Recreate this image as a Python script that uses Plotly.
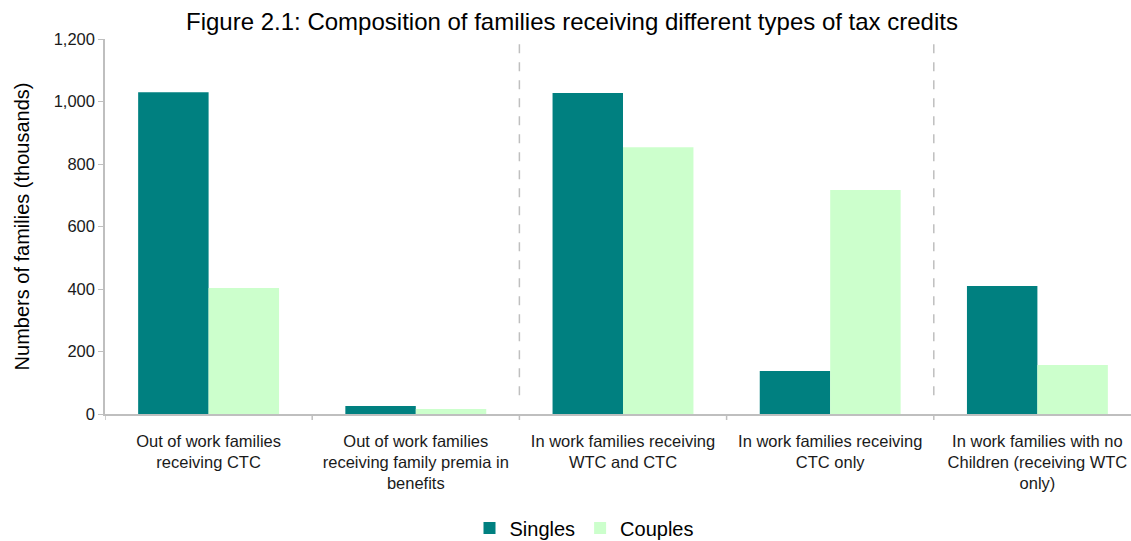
import plotly.graph_objects as go

categories = [
    "Out of work families<br>receiving CTC",
    "Out of work families<br>receiving family premia in<br>benefits",
    "In work families receiving<br>WTC and CTC",
    "In work families receiving<br>CTC only",
    "In work families with no<br>Children (receiving WTC<br>only)",
]
singles = [1030, 26, 1027, 138, 410]
couples = [403, 16, 854, 717, 157]
y_ticks = [0, 200, 400, 600, 800, 1000, 1200]
y_tick_labels = ["0", "200", "400", "600", "800", "1,000", "1,200"]
separators = [1.5, 3.5]

FONT = "Liberation Sans, Arial, sans-serif"

fig = go.Figure()
fig.add_trace(go.Bar(name="Singles", x=list(range(len(categories))), y=singles,
                     marker=dict(color="#008080", line=dict(width=0))))
fig.add_trace(go.Bar(name="Couples", x=list(range(len(categories))), y=couples,
                     marker=dict(color="#CCFFCC", line=dict(width=0))))

for s in separators:
    fig.add_shape(type="line", xref="x", yref="paper", x0=s, x1=s, y0=0.05, y1=1.0,
                  line=dict(color="#BFBFBF", width=1.5, dash="dash"))

fig.update_layout(
    width=1131, height=541,
    margin=dict(l=105, r=0, t=39, b=127, autoexpand=False),
    plot_bgcolor="white", paper_bgcolor="white",
    barmode="group", bargap=0.32, bargroupgap=0,
    font=dict(family=FONT, color="#1a1a1a"),
    title=dict(text="Figure 2.1: Composition of families receiving different types of tax credits",
               x=572 / 1131, xanchor="center", xref="container",
               y=1 - 22 / 541, yanchor="middle", yref="container",
               font=dict(size=24, color="#000000")),
    legend=dict(orientation="h", x=(584 - 105) / 1026, xanchor="center",
                y=(414 - 528) / 375, yanchor="middle",
                font=dict(size=20, color="#000000"), itemsizing="constant",
                itemwidth=30, traceorder="normal"),
    xaxis=dict(range=[-0.5, 4.5 - 10 / 207.2], tickmode="array",
               tickvals=list(range(len(categories))), ticktext=categories,
               showline=True, linecolor="#BFBFBF", linewidth=1.5,
               ticks="", showgrid=False, zeroline=False,
               tickfont=dict(size=16.5, color="#1a1a1a"), ticklabelstandoff=11),
    yaxis=dict(range=[0, 1200], tickmode="array", tickvals=y_ticks, ticktext=y_tick_labels,
               showline=True, linecolor="#BFBFBF", linewidth=1.5,
               ticks="outside", ticklen=5, tickcolor="#BFBFBF",
               showgrid=False, zeroline=False, automargin=False,
               tickfont=dict(size=16.5, color="#1a1a1a"),
               title=dict(text="Numbers of families (thousands)", font=dict(size=20, color="#000000"),
                          standoff=19)),
)

# category boundary ticks on x-axis
for b in [i + 0.5 for i in range(-1, len(categories))]:
    fig.add_shape(type="line", xref="x", yref="paper", x0=b, x1=b, y0=0, y1=-0.016,
                  line=dict(color="#BFBFBF", width=1.5))

fig.write_html("out.html", config={"displayModeBar": False},
               post_script="document.body.style.margin='0';document.body.style.overflow='hidden';")
